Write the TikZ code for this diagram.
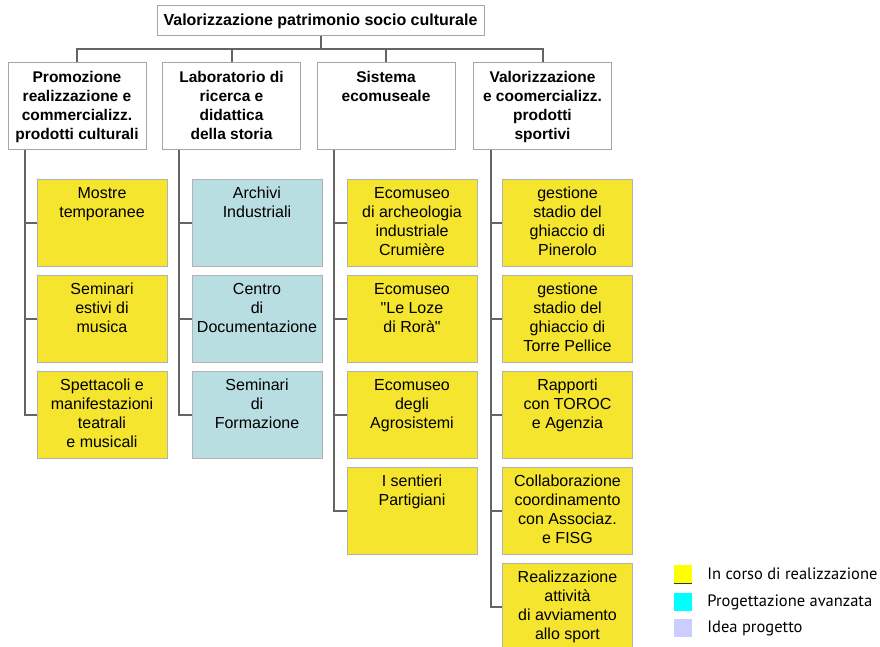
\documentclass[tikz,border=0pt]{standalone}
\usepackage{fontspec}
\setmainfont{Liberation Sans}
\newfontfamily\legendfont{PT Sans}
\usetikzlibrary{positioning}
\definecolor{boxyellow}{RGB}{245,229,46}
\definecolor{boxblue}{RGB}{184,222,226}
\definecolor{lineg}{RGB}{100,100,100}
\definecolor{legyellow}{RGB}{255,255,0}
\definecolor{legcyan}{RGB}{0,255,255}
\definecolor{leglilac}{RGB}{204,204,255}
\newcommand{\cell}[2]{\parbox[c][87pt][t]{#1}{\centering\rule{0pt}{19.5pt}#2}}
\begin{document}
\begin{tikzpicture}[x=1pt,y=-1pt,
    head/.style={draw=gray!70,fill=white,line width=1pt,inner sep=0pt,minimum width=327pt,minimum height=30pt,font=\fontsize{16}{19}\selectfont\bfseries},
    area/.style={draw=gray!70,fill=white,line width=1pt,inner sep=0pt,font=\fontsize{15.5}{19}\selectfont\bfseries},
    task/.style={draw=gray!60,line width=0.8pt,inner sep=0pt,font=\fontsize{16}{19}\selectfont},
    yel/.style={task,fill=boxyellow},
    blu/.style={task,fill=boxblue},
    link/.style={lineg,line width=2pt},
    legbox/.style={minimum size=18pt,inner sep=0pt},
    legtext/.style={inner sep=0pt,font=\legendfont\fontsize{16.5}{19}\selectfont}]
  \useasboundingbox (0,0) rectangle (880,647);
  % top
  \node[head] (root) at (320.5,21) {Valorizzazione patrimonio socio culturale};
  % areas
  \node[area] (a1) at (77,106.5) {\cell{138pt}{Promozione\\realizzazione e\\commercializz.\\prodotti culturali}};
  \node[area] (a2) at (231.5,106.5) {\cell{138pt}{Laboratorio di\\ricerca e\\didattica\\della storia}};
  \node[area] (a3) at (386,106.5) {\cell{138pt}{Sistema\\ecomuseale}};
  \node[area] (a4) at (542.5,106.5) {\cell{138pt}{Valorizzazione\\e coomercializz.\\prodotti\\sportivi}};
  \coordinate (bar) at (0,49);
  \draw[link] (root.south) -- (root.south |- bar);
  \draw[link] (a1.north) -- (a1.north |- bar) -- (a4.north |- bar) -- (a4.north);
  \foreach \n in {a2,a3}
    \draw[link] (\n.north) -- (\n.north |- bar);
  % column 1
  \node[yel] (m11) at (102,222.5) {\cell{130pt}{Mostre\\temporanee}};
  \node[yel] (m12) at (102,318.5) {\cell{130pt}{Seminari\\estivi di\\musica}};
  \node[yel] (m13) at (102,414.5) {\cell{130pt}{Spettacoli e\\manifestazioni\\teatrali\\e musicali}};
  % column 2
  \node[blu] (m21) at (257,222.5) {\cell{130pt}{Archivi\\Industriali}};
  \node[blu] (m22) at (257,318.5) {\cell{130pt}{Centro\\di\\Documentazione}};
  \node[blu] (m23) at (257,414.5) {\cell{130pt}{Seminari\\di\\Formazione}};
  % column 3
  \node[yel] (m31) at (412,222.5) {\cell{130pt}{Ecomuseo\\di archeologia\\industriale\\Crumière}};
  \node[yel] (m32) at (412,318.5) {\cell{130pt}{Ecomuseo\\\textquotedbl Le Loze\\di Rorà\textquotedbl}};
  \node[yel] (m33) at (412,414.5) {\cell{130pt}{Ecomuseo\\degli\\Agrosistemi}};
  \node[yel] (m34) at (412,510.5) {\cell{130pt}{I sentieri\\Partigiani}};
  % column 4
  \node[yel] (m41) at (567.5,222.5) {\cell{130pt}{gestione\\stadio del\\ghiaccio di\\Pinerolo}};
  \node[yel] (m42) at (567.5,318.5) {\cell{130pt}{gestione\\stadio del\\ghiaccio di\\Torre Pellice}};
  \node[yel] (m43) at (567.5,414.5) {\cell{130pt}{Rapporti\\con TOROC\\e Agenzia}};
  \node[yel] (m44) at (567.5,510.5) {\cell{130pt}{Collaborazione\\coordinamento\\con Associaz.\\e FISG}};
  \node[yel] (m45) at (567.5,606.5) {\cell{130pt}{Realizzazione\\attività\\di avviamento\\allo sport}};
  % spines
  \coordinate (s1) at (25,0);
  \coordinate (s2) at (179,0);
  \coordinate (s3) at (334,0);
  \coordinate (s4) at (491,0);
  \draw[link] (a1.south -| s1) |- (m13.west);
  \draw[link] (a2.south -| s2) |- (m23.west);
  \draw[link] (a3.south -| s3) |- (m34.west);
  \draw[link] (a4.south -| s4) |- (m45.west);
  \foreach \m/\s in {m11/s1,m12/s1,m21/s2,m22/s2,m31/s3,m32/s3,m33/s3,m41/s4,m42/s4,m43/s4,m44/s4}
    \draw[link] (\m.west -| \s) -- (\m.west);
  % legend
  \node[legbox,fill=legyellow] (k1) at (683,574) {};
  \draw[black!80,line width=1pt] (k1.south west) -- (k1.south east);
  \node[legbox,fill=legcyan] (k2) at (683,602) {};
  \node[legbox,fill=leglilac] (k3) at (683,628) {};
  \node[legtext,right=15pt of k1] (t1) {In corso di realizzazione};
  \node[legtext,right=15pt of k2] (t2) {Progettazione avanzata};
  \node[legtext,right=15pt of k3] (t3) {Idea progetto};
\end{tikzpicture}
\end{document}
